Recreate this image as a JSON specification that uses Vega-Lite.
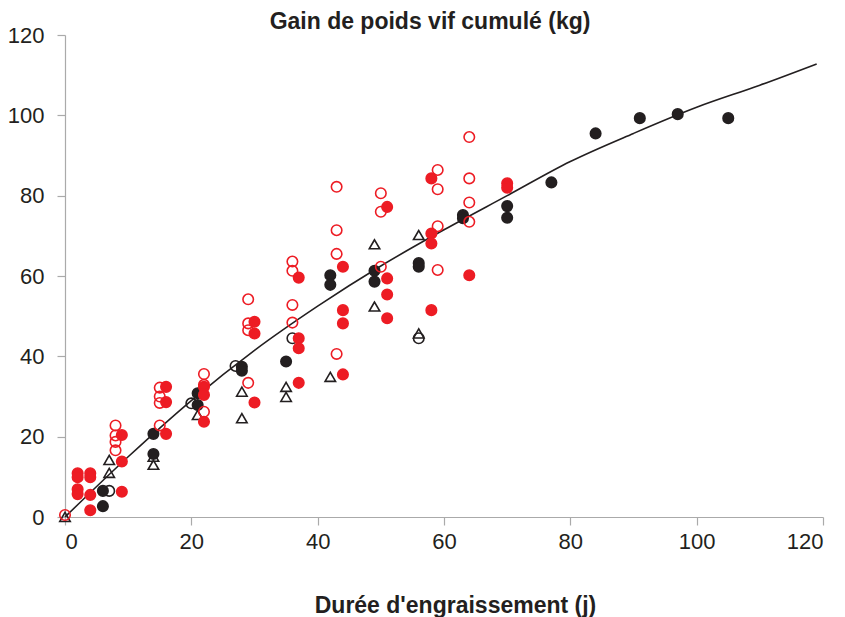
{
  "$schema": "https://vega.github.io/schema/vega-lite/v6.json",
  "autosize": "none",
  "width": 758,
  "height": 482,
  "padding": {"left": 65, "top": 35, "right": 22, "bottom": 100},
  "background": "white",
  "title": {
    "text": "Gain de poids vif cumulé (kg)",
    "font": "Liberation Sans",
    "fontSize": 23,
    "fontWeight": "bold",
    "color": "#231f20",
    "anchor": "middle",
    "dx": -14,
    "offset": -10
  },
  "config": {
    "view": {"stroke": null},
    "font": "Liberation Sans",
    "axis": {
      "grid": false,
      "domainColor": "#aaaaaa",
      "domainWidth": 1.2,
      "tickColor": "#aaaaaa",
      "tickWidth": 1.2,
      "tickSize": 8,
      "labelFont": "Liberation Sans",
      "labelFontSize": 22,
      "labelColor": "#231f20",
      "titleFont": "Liberation Sans",
      "titleFontSize": 23,
      "titleFontWeight": "bold",
      "titleColor": "#231f20"
    }
  },
  "datasets": {
    "curve": [
      {"jours": 0, "gain": 0},
      {"jours": 10, "gain": 15},
      {"jours": 20, "gain": 29},
      {"jours": 30, "gain": 41.5},
      {"jours": 40, "gain": 52.5},
      {"jours": 50, "gain": 62.5},
      {"jours": 60, "gain": 71.5},
      {"jours": 70, "gain": 80},
      {"jours": 80, "gain": 88.5},
      {"jours": 90, "gain": 95.5},
      {"jours": 100, "gain": 102},
      {"jours": 110, "gain": 107.5},
      {"jours": 119, "gain": 112.8}
    ],
    "pts": [
      {"grp": "tri", "jours": 0, "gain": 0},
      {"grp": "tri", "jours": 7, "gain": 14.2},
      {"grp": "tri", "jours": 7, "gain": 11.0},
      {"grp": "tri", "jours": 14, "gain": 15.0},
      {"grp": "tri", "jours": 14, "gain": 13.0},
      {"grp": "tri", "jours": 21, "gain": 25.4},
      {"grp": "tri", "jours": 28, "gain": 31.2},
      {"grp": "tri", "jours": 28, "gain": 24.6},
      {"grp": "tri", "jours": 35, "gain": 32.4},
      {"grp": "tri", "jours": 35, "gain": 29.9},
      {"grp": "tri", "jours": 42, "gain": 34.9},
      {"grp": "tri", "jours": 49, "gain": 67.9},
      {"grp": "tri", "jours": 49, "gain": 52.4},
      {"grp": "tri", "jours": 56, "gain": 70.2},
      {"grp": "tri", "jours": 56, "gain": 45.7},
      {"grp": "bo", "jours": 7, "gain": 6.5},
      {"grp": "bo", "jours": 20, "gain": 28.3},
      {"grp": "bo", "jours": 27, "gain": 37.6},
      {"grp": "bo", "jours": 36, "gain": 44.5},
      {"grp": "bo", "jours": 56, "gain": 44.5},
      {"grp": "bf", "jours": 6, "gain": 6.5},
      {"grp": "bf", "jours": 6, "gain": 2.7},
      {"grp": "bf", "jours": 14, "gain": 20.7},
      {"grp": "bf", "jours": 14, "gain": 15.7},
      {"grp": "bf", "jours": 21, "gain": 30.8},
      {"grp": "bf", "jours": 21, "gain": 27.9},
      {"grp": "bf", "jours": 28, "gain": 37.4},
      {"grp": "bf", "jours": 28, "gain": 36.4},
      {"grp": "bf", "jours": 35, "gain": 38.7},
      {"grp": "bf", "jours": 42, "gain": 60.2},
      {"grp": "bf", "jours": 42, "gain": 57.8},
      {"grp": "bf", "jours": 49, "gain": 61.3},
      {"grp": "bf", "jours": 49, "gain": 58.6},
      {"grp": "bf", "jours": 56, "gain": 63.2},
      {"grp": "bf", "jours": 56, "gain": 62.3},
      {"grp": "bf", "jours": 63, "gain": 75.2},
      {"grp": "bf", "jours": 63, "gain": 74.4},
      {"grp": "bf", "jours": 70, "gain": 77.4},
      {"grp": "bf", "jours": 70, "gain": 74.5},
      {"grp": "bf", "jours": 77, "gain": 83.3},
      {"grp": "bf", "jours": 84, "gain": 95.5},
      {"grp": "bf", "jours": 91, "gain": 99.3},
      {"grp": "bf", "jours": 97, "gain": 100.3},
      {"grp": "bf", "jours": 105, "gain": 99.3},
      {"grp": "rf", "jours": 2, "gain": 10.9},
      {"grp": "rf", "jours": 2, "gain": 9.9},
      {"grp": "rf", "jours": 2, "gain": 6.9},
      {"grp": "rf", "jours": 2, "gain": 5.7},
      {"grp": "rf", "jours": 4, "gain": 10.9},
      {"grp": "rf", "jours": 4, "gain": 9.9},
      {"grp": "rf", "jours": 4, "gain": 5.5},
      {"grp": "rf", "jours": 4, "gain": 1.7},
      {"grp": "rf", "jours": 9, "gain": 20.4},
      {"grp": "rf", "jours": 9, "gain": 13.8},
      {"grp": "rf", "jours": 9, "gain": 6.3},
      {"grp": "rf", "jours": 16, "gain": 32.4},
      {"grp": "rf", "jours": 16, "gain": 28.6},
      {"grp": "rf", "jours": 16, "gain": 20.7},
      {"grp": "rf", "jours": 22, "gain": 32.4},
      {"grp": "rf", "jours": 22, "gain": 30.4},
      {"grp": "rf", "jours": 22, "gain": 23.7},
      {"grp": "rf", "jours": 30, "gain": 48.6},
      {"grp": "rf", "jours": 30, "gain": 45.7},
      {"grp": "rf", "jours": 30, "gain": 28.5},
      {"grp": "rf", "jours": 37, "gain": 59.6},
      {"grp": "rf", "jours": 37, "gain": 44.5},
      {"grp": "rf", "jours": 37, "gain": 42.0},
      {"grp": "rf", "jours": 37, "gain": 33.4},
      {"grp": "rf", "jours": 44, "gain": 62.3},
      {"grp": "rf", "jours": 44, "gain": 51.5},
      {"grp": "rf", "jours": 44, "gain": 48.2},
      {"grp": "rf", "jours": 44, "gain": 35.5},
      {"grp": "rf", "jours": 51, "gain": 77.2},
      {"grp": "rf", "jours": 51, "gain": 59.4},
      {"grp": "rf", "jours": 51, "gain": 55.4},
      {"grp": "rf", "jours": 51, "gain": 49.5},
      {"grp": "rf", "jours": 58, "gain": 84.3},
      {"grp": "rf", "jours": 58, "gain": 70.6},
      {"grp": "rf", "jours": 58, "gain": 68.1},
      {"grp": "rf", "jours": 58, "gain": 51.5},
      {"grp": "rf", "jours": 64, "gain": 60.2},
      {"grp": "rf", "jours": 70, "gain": 83.1},
      {"grp": "rf", "jours": 70, "gain": 82.0},
      {"grp": "ro", "jours": 0, "gain": 0.5},
      {"grp": "ro", "jours": 8, "gain": 22.8},
      {"grp": "ro", "jours": 8, "gain": 20.3},
      {"grp": "ro", "jours": 8, "gain": 18.7},
      {"grp": "ro", "jours": 8, "gain": 16.6},
      {"grp": "ro", "jours": 15, "gain": 32.2},
      {"grp": "ro", "jours": 15, "gain": 30.0},
      {"grp": "ro", "jours": 15, "gain": 28.4},
      {"grp": "ro", "jours": 15, "gain": 22.8},
      {"grp": "ro", "jours": 22, "gain": 35.6},
      {"grp": "ro", "jours": 22, "gain": 32.9},
      {"grp": "ro", "jours": 22, "gain": 26.2},
      {"grp": "ro", "jours": 29, "gain": 54.2},
      {"grp": "ro", "jours": 29, "gain": 48.2},
      {"grp": "ro", "jours": 29, "gain": 46.5},
      {"grp": "ro", "jours": 29, "gain": 33.4},
      {"grp": "ro", "jours": 36, "gain": 63.6},
      {"grp": "ro", "jours": 36, "gain": 61.3},
      {"grp": "ro", "jours": 36, "gain": 52.8},
      {"grp": "ro", "jours": 36, "gain": 48.4},
      {"grp": "ro", "jours": 43, "gain": 82.2},
      {"grp": "ro", "jours": 43, "gain": 71.4},
      {"grp": "ro", "jours": 43, "gain": 65.5},
      {"grp": "ro", "jours": 43, "gain": 40.6},
      {"grp": "ro", "jours": 50, "gain": 80.6},
      {"grp": "ro", "jours": 50, "gain": 76.0},
      {"grp": "ro", "jours": 50, "gain": 62.3},
      {"grp": "ro", "jours": 59, "gain": 86.4},
      {"grp": "ro", "jours": 59, "gain": 81.6},
      {"grp": "ro", "jours": 59, "gain": 72.4},
      {"grp": "ro", "jours": 59, "gain": 61.5},
      {"grp": "ro", "jours": 64, "gain": 94.6},
      {"grp": "ro", "jours": 64, "gain": 84.3},
      {"grp": "ro", "jours": 64, "gain": 78.3},
      {"grp": "ro", "jours": 64, "gain": 73.5}
    ]
  },
  "layer": [
    {
      "data": {"name": "curve"},
      "mark": {"type": "line", "color": "#231f20", "strokeWidth": 1.6, "interpolate": "monotone", "clip": false},
      "encoding": {
        "x": {
          "field": "jours", "type": "quantitative",
          "scale": {"domain": [0, 120], "nice": false, "zero": true},
          "axis": {
            "values": [0, 20, 40, 60, 80, 100, 120],
            "title": "Durée d'engraissement (j)",
            "labelPadding": 6,
            "titleX": 390,
            "titleY": 95,
            "titleBaseline": "alphabetic",
            "titleAnchor": "middle",
            "titleAlign": "center"
          }
        },
        "y": {
          "field": "gain", "type": "quantitative",
          "scale": {"domain": [0, 120], "nice": false},
          "axis": {
            "values": [0, 20, 40, 60, 80, 100, 120],
            "title": null,
            "labelPadding": 13
          }
        }
      }
    },
    {
      "data": {"name": "pts"},
      "mark": {"type": "point", "size": 90, "strokeWidth": 1.6, "opacity": 1, "clip": false},
      "encoding": {
        "x": {"field": "jours", "type": "quantitative"},
        "y": {"field": "gain", "type": "quantitative"},
        "shape": {
          "field": "grp", "type": "nominal",
          "scale": {"domain": ["bf", "bo", "tri", "rf", "ro"], "range": ["circle", "circle", "triangle-up", "circle", "circle"]},
          "legend": null
        },
        "fill": {
          "field": "grp", "type": "nominal",
          "scale": {"domain": ["bf", "bo", "tri", "rf", "ro"], "range": ["#231f20", "transparent", "transparent", "#ed1c24", "transparent"]},
          "legend": null
        },
        "stroke": {
          "field": "grp", "type": "nominal",
          "scale": {"domain": ["bf", "bo", "tri", "rf", "ro"], "range": ["#231f20", "#231f20", "#231f20", "#ed1c24", "#ed1c24"]},
          "legend": null
        },
        "size": {
          "field": "grp", "type": "nominal",
          "scale": {"domain": ["bf", "bo", "tri", "rf", "ro"], "range": [110, 110, 170, 110, 110]},
          "legend": null
        }
      }
    }
  ]
}
